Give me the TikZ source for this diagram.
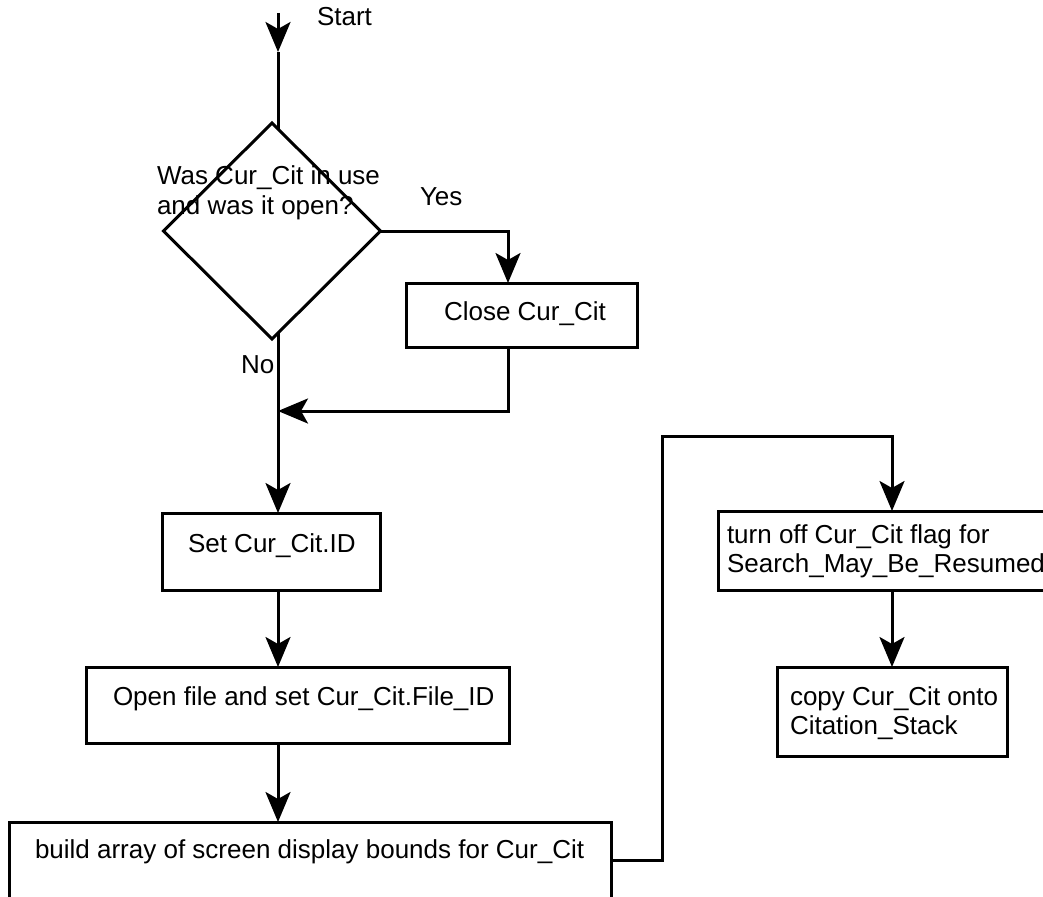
\documentclass[tikz,border=0pt]{standalone}
\usepackage{fontspec}
\setmainfont{Liberation Sans}
\usetikzlibrary{arrows.meta,shapes.geometric}
\begin{document}
\begin{tikzpicture}[x=1pt,y=-1pt,
  every node/.style={inner sep=0pt, outer sep=0pt},
  flow/.style={line width=3pt, line cap=butt, line join=miter},
  arr/.style={flow, -{Stealth[length=30pt,width=25pt,inset=7pt]}},
  box/.style={draw, line width=3pt, rectangle, anchor=north west},
  txt/.style={anchor=base west, font=\fontsize{26}{29.5}\selectfont},
]
\useasboundingbox (0,0) rectangle (1043,896);
\fill[white] (0,0) rectangle (1043,896);
\clip (0,0) rectangle (1043,896);

% decision
\node[draw, diamond, shape aspect=1, line width=3pt,
      minimum width=217pt, minimum height=216pt] (dia) at (272,231) {};
\node[txt] (q) at (157,185)
  {\begin{tabular}[t]{@{}l@{}}Was Cur\_Cit in use\\and was it open?\end{tabular}};

% process boxes
\node[box, minimum width=231pt, minimum height=64pt] (close) at (406,283) {};
\node[box, minimum width=218pt, minimum height=77pt] (set) at (162,513) {};
\node[box, minimum width=423pt, minimum height=76pt] (open) at (86,667) {};
\node[box, minimum width=602pt, minimum height=76pt] (build) at (9,822) {};
\node[box, minimum width=348pt, minimum height=79pt] (turn) at (718,511) {};
\node[box, minimum width=230pt, minimum height=89pt] (copy) at (777,667) {};

% box texts
\node[txt] (closeT) at (444,320) {Close Cur\_Cit};
\node[txt] (setT) at (188,552) {Set Cur\_Cit.ID};
\node[txt] (openT) at (113,705) {Open file and set Cur\_Cit.File\_ID};
\node[txt] (buildT) at (35,858) {build array of screen display bounds for Cur\_Cit};
\node[txt] (turnT) at (727,543)
  {\begin{tabular}[t]{@{}l@{}}turn off Cur\_Cit flag for\\Search\_May\_Be\_Resumed\end{tabular}};
\node[txt] (copyT) at (790,705)
  {\begin{tabular}[t]{@{}l@{}}copy Cur\_Cit onto\\Citation\_Stack\end{tabular}};

% branch labels
\node[txt] (startT) at (317,26) {Start};
\node[txt] (yesT) at (420,205) {Yes};
\node[txt] (noT) at (241,373) {No};

% routing points
\coordinate (start) at (278,13);
\coordinate (startTip) at (278,52);
\coordinate (diaIn) at (278,129);
\coordinate (diaOut) at (278,333);
\coordinate (merge) at (278,411);
\coordinate (yesCol) at (508,411);
\coordinate (loopTop) at (662,436);

% connectors
\draw[arr] (start) -- (startTip);
\draw[flow] (startTip) -- (diaIn);
\draw[arr] (dia.east) -- (dia.east -| yesCol) -- (yesCol |- close.north);
\draw[arr] (yesCol |- close.south) -- (yesCol) -- (merge);
\draw[arr] (diaOut) -- (merge |- set.north);
\draw[arr] (merge |- set.south) -- (merge |- open.north);
\draw[arr] (merge |- open.south) -- (merge |- build.north);
\draw[arr] (build.east) -| (loopTop) -| (turn.north);
\draw[arr] (turn.south) -- (copy.north);
\end{tikzpicture}
\end{document}
